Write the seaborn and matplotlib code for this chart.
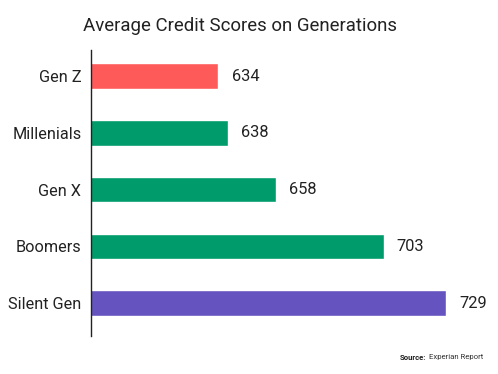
import matplotlib
matplotlib.use("Agg")
import matplotlib.pyplot as plt
import seaborn as sns
import pandas as pd

# data
generations = ["Gen Z", "Millenials", "Gen X", "Boomers", "Silent Gen"]
scores = [634, 638, 658, 703, 729]
bar_colors = ["#FF5A5A", "#009B6A", "#009B6A", "#009B6A", "#6554C0"]

df = pd.DataFrame({"generation": generations, "score": scores})

sns.set_theme(style="white")
plt.rcParams["font.family"] = ["Roboto", "DejaVu Sans"]

fig = plt.figure(figsize=(4.98, 3.74), dpi=100)
ax = fig.add_axes([0.1827, 0.1016, 0.78, 0.7647])

sns.barplot(data=df, x="score", y="generation", hue="generation",
            palette=bar_colors, saturation=1, orient="h", width=0.45,
            legend=False, ax=ax)

# axis starts around 580 like the original
ax.set_xlim(580.8, 743)
ax.set_ylim(4.58, -0.46)

for c in ax.containers:
    ax.bar_label(c, padding=9.5, fontsize=11.8, color="#222222")

ax.set_xlabel("")
ax.set_ylabel("")
ax.set_xticks([])
ax.tick_params(axis="y", length=0, pad=7, labelsize=11.7, labelcolor="#222222")
for s in ["top", "right", "bottom"]:
    ax.spines[s].set_visible(False)
ax.spines["left"].set_color("#222222")
ax.spines["left"].set_linewidth(1.0)

fig.text(0.481, 0.93, "Average Credit Scores on Generations", ha="center",
         va="center", fontsize=13.4, color="#222222")

# source note, bold label then plain text right after it
src = fig.text(0.803, 0.045, "Source:", ha="left", va="center",
               fontsize=5.6, fontweight="bold", color="#222222")
fig.text(0.861, 0.045, "Experian Report", ha="left", va="center",
         fontsize=5.6, color="#333333")

fig.savefig("out.png", dpi=100)
